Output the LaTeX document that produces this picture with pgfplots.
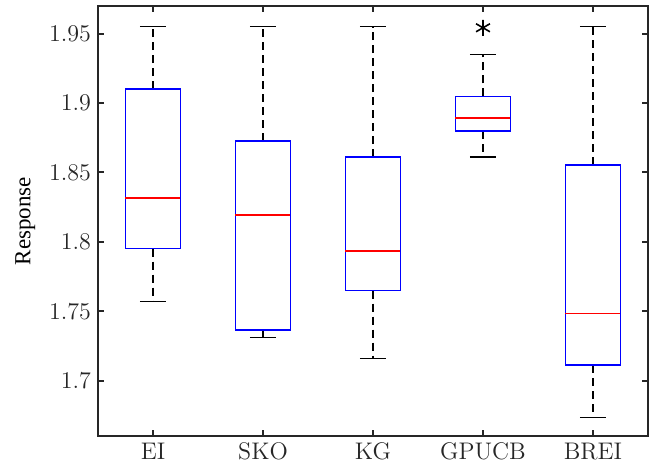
\documentclass[border=0pt]{standalone}
\usepackage{fontspec}
\newfontfamily\labelfont{Liberation Serif}
\usepackage{pgfplots}
\usepgfplotslibrary{statistics}
\pgfplotsset{compat=1.18}
\definecolor{axgray}{RGB}{38,38,38}

\begin{document}
\begin{tikzpicture}
\begin{axis}[
  scale only axis, width=275pt, height=215pt,
  xmin=0.5, xmax=5.5, ymin=1.66, ymax=1.97,
  xtick={1,2,3,4,5}, xticklabels={EI,SKO,KG,GPUCB,BREI},
  ytick={1.7,1.75,1.8,1.85,1.9,1.95},
  yticklabels={1.7,1.75,1.8,1.85,1.9,1.95},
  tick label style={font=\fontsize{12}{14}\selectfont, text=axgray},
  ylabel={\labelfont Response}, ylabel style={font=\fontsize{11.5}{13}\selectfont, text=black},
  axis line style={axgray, line width=1pt},
  every tick/.style={axgray, line width=1pt},
  major tick length=3pt, tick align=inside,
  boxplot/draw direction=y,
  boxplot/box extend=0.5,
  boxplot/whisker extend=0.24,
  boxplot/every box/.style={draw=blue, line width=0.75pt},
  boxplot/every median/.style={draw=red, line width=0.75pt},
  boxplot/draw/lower whisker/.code={
    \draw[black, line width=0.6pt, dash pattern=on 4pt off 2.5pt]
      (boxplot box cs:\pgfplotsboxplotvalue{lower quartile},0.5) --
      (boxplot box cs:\pgfplotsboxplotvalue{lower whisker},0.5);
    \draw[black, line width=0.6pt]
      (boxplot whisker cs:\pgfplotsboxplotvalue{lower whisker},0) --
      (boxplot whisker cs:\pgfplotsboxplotvalue{lower whisker},1);
  },
  boxplot/draw/upper whisker/.code={
    \draw[black, line width=0.6pt, dash pattern=on 4pt off 2.5pt]
      (boxplot box cs:\pgfplotsboxplotvalue{upper quartile},0.5) --
      (boxplot box cs:\pgfplotsboxplotvalue{upper whisker},0.5);
    \draw[black, line width=0.6pt]
      (boxplot whisker cs:\pgfplotsboxplotvalue{upper whisker},0) --
      (boxplot whisker cs:\pgfplotsboxplotvalue{upper whisker},1);
  },
]
% EI
\addplot[boxplot prepared={draw position=1,
  lower whisker=1.7567, lower quartile=1.7951, median=1.8314,
  upper quartile=1.9100, upper whisker=1.9550}] coordinates {};
% SKO
\addplot[boxplot prepared={draw position=2,
  lower whisker=1.7310, lower quartile=1.7365, median=1.8194,
  upper quartile=1.8727, upper whisker=1.9550}] coordinates {};
% KG
\addplot[boxplot prepared={draw position=3,
  lower whisker=1.7158, lower quartile=1.7648, median=1.7932,
  upper quartile=1.8610, upper whisker=1.9550}] coordinates {};
% GPUCB, one outlier
\addplot[mark=asterisk, mark size=4pt, mark options={black, line width=0.8pt},
  boxplot prepared={draw position=4,
  lower whisker=1.8612, lower quartile=1.8797, median=1.8893,
  upper quartile=1.9049, upper whisker=1.9352}] coordinates {(4,1.9543)};
% BREI
\addplot[boxplot prepared={draw position=5,
  lower whisker=1.6733, lower quartile=1.7111, median=1.7483,
  upper quartile=1.8554, upper whisker=1.9550}] coordinates {};
\end{axis}
\path (current axis.north east) +(4.5pt,3pt);
\path (current axis.south west) +(-49pt,-13pt);
\end{tikzpicture}
\end{document}
